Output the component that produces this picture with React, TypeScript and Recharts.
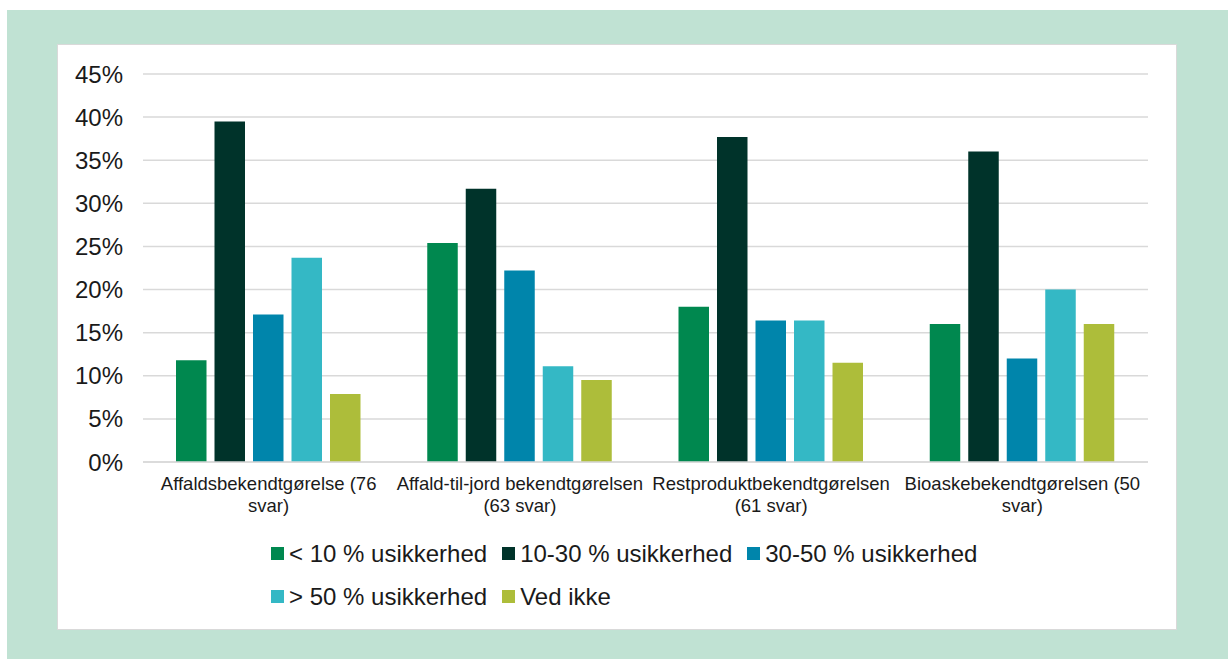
import React from 'react';
import { BarChart, Bar, XAxis, YAxis, CartesianGrid, Legend } from 'recharts';

const labelLines = [
  ['Affaldsbekendtgørelse (76', 'svar)'],
  ['Affald-til-jord bekendtgørelsen', '(63 svar)'],
  ['Restproduktbekendtgørelsen', '(61 svar)'],
  ['Bioaskebekendtgørelsen (50', 'svar)'],
];
const categories = labelLines.map((l) => l.join(' '));

const under10 = [11.8, 25.4, 18.0, 16.0];
const from10to30 = [39.5, 31.7, 37.7, 36.0];
const from30to50 = [17.1, 22.2, 16.4, 12.0];
const over50 = [23.7, 11.1, 16.4, 20.0];
const vedIkke = [7.9, 9.5, 11.5, 16.0];

const yTicks = [0, 5, 10, 15, 20, 25, 30, 35, 40, 45];

const data = categories.map((name, i) => ({
  name,
  a: under10[i],
  b: from10to30[i],
  c: from30to50[i],
  d: over50[i],
  e: vedIkke[i],
}));

const series = [
  { key: 'a', name: '< 10 % usikkerhed', color: '#00884f' },
  { key: 'b', name: '10-30 % usikkerhed', color: '#00332a' },
  { key: 'c', name: '30-50 % usikkerhed', color: '#0085ab' },
  { key: 'd', name: '> 50 % usikkerhed', color: '#34b8c5' },
  { key: 'e', name: 'Ved ikke', color: '#adbd3a' },
];

const FONT = '"Liberation Sans", Arial, sans-serif';
const TEXT = '#1a1a1a';

const XTick = ({ x, y, payload }: any) => {
  const idx = categories.indexOf(payload.value);
  const lines = idx >= 0 ? labelLines[idx] : [payload.value];
  return (
    <text x={x} y={y} textAnchor="middle" fill={TEXT} fontSize={18.5} fontFamily={FONT}>
      {lines.map((l, i) => (
        <tspan key={i} x={x} dy={i === 0 ? 20 : 22}>
          {l}
        </tspan>
      ))}
    </text>
  );
};

// legend drawn in series order (Recharts sorts its payload by name)
const renderLegend = () => (
  <div
    style={{
      marginLeft: 214,
      width: 730,
      display: 'flex',
      flexWrap: 'wrap',
      fontFamily: FONT,
      fontSize: 24,
      color: TEXT,
    }}
  >
    {series.map((s) => (
      <div key={s.key} style={{ display: 'flex', alignItems: 'center', height: 43, marginRight: 15 }}>
        <span style={{ width: 13, height: 13, background: s.color, marginRight: 5, display: 'inline-block' }} />
        <span>{s.name}</span>
      </div>
    ))}
  </div>
);

export default function App() {
  return (
    <div style={{ position: 'absolute', left: 0, top: 0, width: 1228, height: 659, background: '#fff' }}>
      <div style={{ position: 'absolute', left: 7, top: 10, width: 1221, height: 649, background: '#c0e2d3' }} />
      <div
        style={{
          position: 'absolute',
          left: 57,
          top: 44,
          width: 1120,
          height: 586,
          background: '#fff',
          boxSizing: 'border-box',
          border: '1px solid #d9d9d9',
        }}
      />
      <div style={{ position: 'absolute', left: 57, top: 44 }}>
        <BarChart
          width={1120}
          height={586}
          data={data}
          margin={{ top: 30, right: 29, left: 0, bottom: 0 }}
          barSize={30.5}
          barGap={8}
        >
          <CartesianGrid vertical={false} stroke="#d9d9d9" strokeWidth={1.5} />
          <XAxis
            dataKey="name"
            height={70}
            tick={<XTick />}
            tickLine={false}
            axisLine={{ stroke: '#d9d9d9', strokeWidth: 1.5 }}
            interval={0}
          />
          <YAxis
            width={86}
            domain={[0, 45]}
            ticks={yTicks}
            tickFormatter={(v) => `${v}%`}
            tickLine={false}
            axisLine={false}
            tickSize={6}
            tickMargin={14}
            tick={{ fill: TEXT, fontSize: 24, fontFamily: FONT }}
          />
          <Legend verticalAlign="bottom" height={98} content={renderLegend} wrapperStyle={{ left: 0, width: 1120 }} />
          {series.map((s) => (
            <Bar key={s.key} dataKey={s.key} name={s.name} fill={s.color} isAnimationActive={false} />
          ))}
        </BarChart>
      </div>
    </div>
  );
}
